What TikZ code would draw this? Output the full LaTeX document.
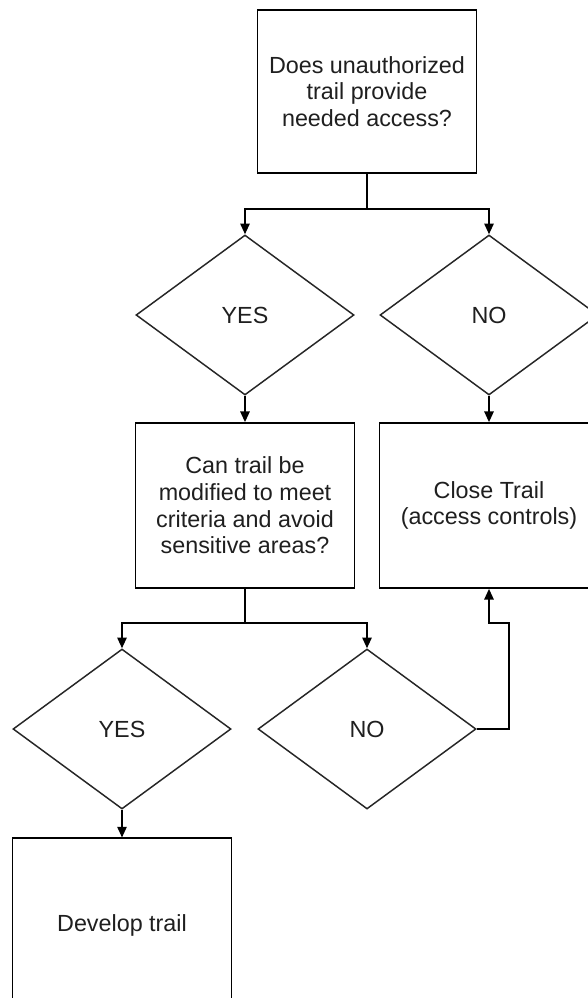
\documentclass[tikz,border=0pt]{standalone}
\usepackage{fontspec}
\setmainfont{Liberation Sans}
\usetikzlibrary{shapes.geometric,arrows.meta}
\begin{document}
\begin{tikzpicture}[x=0.75pt,y=-0.75pt,
  every node/.style={font=\fontsize{17.5pt}{20pt}\selectfont, text=black!88, align=center},
  boxnode/.style={draw=black, line width=1.3pt, fill=white, rectangle, minimum width=164.25pt, inner sep=0pt},
  decnode/.style={draw=black!85, line width=1.1pt, fill=white, diamond, minimum width=163.5pt, minimum height=120pt, inner sep=0pt},
  conn/.style={line width=1.3pt, draw=black},
  arr/.style={conn, -{Triangle[length=8pt,width=7pt]}}]
\useasboundingbox (0,0) rectangle (588,998);
\clip (0,0) rectangle (588,998);
\fill[white] (0,0) rectangle (588,998);

\node[boxnode, minimum height=122.25pt] (q1) at (367,91.5) {Does unauthorized\\trail provide\\needed access?};
\node[decnode] (d1) at (245,315) {YES};
\node[decnode] (d2) at (489,315) {NO};
\node[boxnode, minimum height=123.75pt] (q2) at (245,505.5) {Can trail be\\modified to meet\\criteria and avoid\\sensitive areas?};
\node[boxnode, minimum height=123.75pt] (close) at (489,505.5) {Close Trail\\(access controls)};
\node[decnode] (d3) at (122,729) {YES};
\node[decnode] (d4) at (367,729) {NO};
\node[boxnode, minimum height=130pt] (dev) at (122,925) {Develop trail};

\coordinate (j1) at (367,209);
\coordinate (j2) at (245,623);
\coordinate (r1) at (509,729);
\coordinate (r2) at (509,623);
\coordinate (r3) at (489,623);

\draw[conn] (q1.south) -- (j1);
\draw[arr] (j1) -| (d1.north);
\draw[arr] (j1) -| (d2.north);
\draw[arr] (d1.south) -- (q2.north);
\draw[arr] (d2.south) -- (close.north);
\draw[conn] (q2.south) -- (j2);
\draw[arr] (j2) -| (d3.north);
\draw[arr] (j2) -| (d4.north);
\draw[arr] (d3.south) -- (dev.north);
\draw[arr] (d4.east) -- (r1) -- (r2) -- (r3) -- (close.south);
\end{tikzpicture}
\end{document}
